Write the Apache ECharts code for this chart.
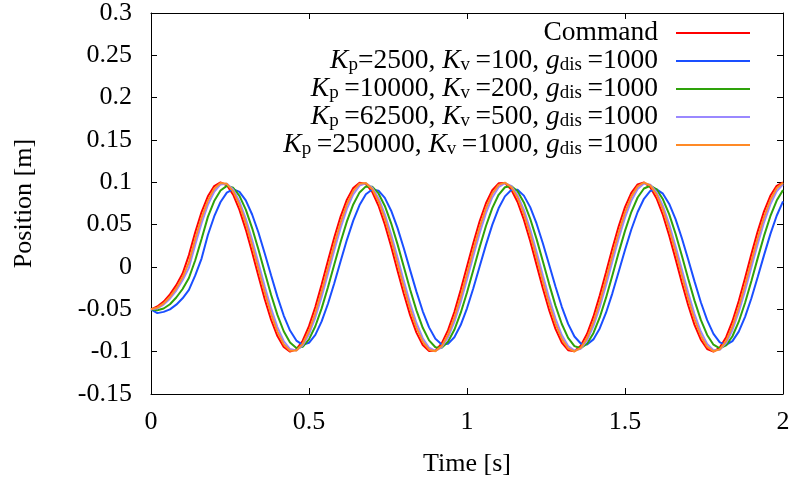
<!DOCTYPE html>
<html>
<head>
<meta charset="utf-8">
<script src="https://cdn.jsdelivr.net/npm/echarts@6/dist/echarts.min.js"></script>
<style>
html,body{margin:0;padding:0;background:#fff;}
#chart{width:795px;height:487px;}
</style>
</head>
<body>
<div id="chart"></div>
<script>
// time axis [s]
var times = [0, 0.02, 0.04, 0.06, 0.08, 0.10, 0.12, 0.14, 0.16, 0.18, 0.20, 0.22, 0.24, 0.26, 0.28, 0.30,
  0.32, 0.34, 0.36, 0.38, 0.40, 0.42, 0.44, 0.46, 0.48, 0.50, 0.52, 0.54, 0.56, 0.58, 0.60,
  0.62, 0.64, 0.66, 0.68, 0.70, 0.72, 0.74, 0.76, 0.78, 0.80, 0.82, 0.84, 0.86, 0.88, 0.90,
  0.92, 0.94, 0.96, 0.98, 1.00, 1.02, 1.04, 1.06, 1.08, 1.10, 1.12, 1.14, 1.16, 1.18, 1.20,
  1.22, 1.24, 1.26, 1.28, 1.30, 1.32, 1.34, 1.36, 1.38, 1.40, 1.42, 1.44, 1.46, 1.48, 1.50,
  1.52, 1.54, 1.56, 1.58, 1.60, 1.62, 1.64, 1.66, 1.68, 1.70, 1.72, 1.74, 1.76, 1.78, 1.80,
  1.82, 1.84, 1.86, 1.88, 1.90, 1.92, 1.94, 1.96, 1.98, 2.00];

// position [m]
var command = [-0.05, -0.0467, -0.0409, -0.0324, -0.0214, -0.0078,
  0.0141, 0.0411, 0.0649, 0.0835, 0.0956, 0.1000, 0.0965, 0.0854, 0.0674, 0.0442,
  0.0174, -0.0107, -0.0380, -0.0623, -0.0816, -0.0945, -0.0999, -0.0973, -0.0871, -0.0699,
  -0.0472, -0.0208, 0.0073, 0.0349, 0.0596, 0.0796, 0.0933, 0.0996, 0.0981, 0.0887,
  0.0723, 0.0502, 0.0241, -0.0040, -0.0317, -0.0568, -0.0775, -0.0921, -0.0993, -0.0987,
  -0.0902, -0.0746, -0.0531, -0.0273, 0.0006, 0.0284, 0.0540, 0.0753, 0.0907, 0.0988,
  0.0992, 0.0916, 0.0768, 0.0559, 0.0306, 0.0028, -0.0252, -0.0511, -0.0731, -0.0892,
  -0.0983, -0.0995, -0.0929, -0.0789, -0.0587, -0.0338, -0.0062, 0.0219, 0.0482, 0.0707,
  0.0876, 0.0976, 0.0998, 0.0941, 0.0810, 0.0614, 0.0370, 0.0096, -0.0185, -0.0452,
  -0.0683, -0.0859, -0.0968, -0.1000, -0.0952, -0.0829, -0.0640, -0.0401, -0.0130, 0.0152,
  0.0421, 0.0658, 0.0841, 0.0959, 0.1000];
var kp2500 = [-0.05, -0.0545, -0.0530, -0.0500, -0.0445, -0.0370,
  -0.0270, -0.0100, 0.0100, 0.0378, 0.0597, 0.0768, 0.0879, 0.0920, 0.0888, 0.0786,
  0.0620, 0.0407, 0.0160, -0.0098, -0.0350, -0.0573, -0.0751, -0.0869, -0.0919, -0.0895,
  -0.0801, -0.0643, -0.0434, -0.0191, 0.0068, 0.0321, 0.0548, 0.0732, 0.0859, 0.0916,
  0.0902, 0.0816, 0.0665, 0.0462, 0.0221, -0.0037, -0.0291, -0.0523, -0.0713, -0.0847,
  -0.0914, -0.0908, -0.0830, -0.0686, -0.0488, -0.0251, 0.0005, 0.0261, 0.0497, 0.0693,
  0.0834, 0.0909, 0.0912, 0.0843, 0.0707, 0.0514, 0.0281, 0.0026, -0.0231, -0.0470,
  -0.0672, -0.0821, -0.0904, -0.0915, -0.0855, -0.0726, -0.0540, -0.0311, -0.0057, 0.0201,
  0.0443, 0.0650, 0.0806, 0.0898, 0.0918, 0.0866, 0.0745, 0.0565, 0.0340, 0.0088,
  -0.0170, -0.0416, -0.0628, -0.0790, -0.0890, -0.0920, -0.0876, -0.0763, -0.0589, -0.0369,
  -0.0119, 0.0140, 0.0388, 0.0605, 0.0774];
var kp10000 = [-0.05, -0.0510, -0.0490, -0.0440, -0.0360, -0.0260,
  -0.0130, 0.0080, 0.0330, 0.0592, 0.0779, 0.0904, 0.0958, 0.0936, 0.0840, 0.0677,
  0.0460, 0.0207, -0.0062, -0.0327, -0.0566, -0.0759, -0.0893, -0.0956, -0.0943, -0.0855,
  -0.0700, -0.0489, -0.0239, 0.0030, 0.0296, 0.0539, 0.0739, 0.0881, 0.0952, 0.0948,
  0.0869, 0.0721, 0.0516, 0.0270, 0.0003, -0.0265, -0.0512, -0.0718, -0.0867, -0.0948,
  -0.0953, -0.0883, -0.0742, -0.0543, -0.0301, -0.0035, 0.0234, 0.0484, 0.0696, 0.0853,
  0.0942, 0.0956, 0.0895, 0.0763, 0.0570, 0.0332, 0.0068, -0.0202, -0.0456, -0.0673,
  -0.0837, -0.0935, -0.0959, -0.0906, -0.0782, -0.0596, -0.0362, -0.0100, 0.0170, 0.0427,
  0.0649, 0.0821, 0.0927, 0.0960, 0.0917, 0.0800, 0.0621, 0.0392, 0.0133, -0.0138,
  -0.0397, -0.0625, -0.0803, -0.0918, -0.0960, -0.0926, -0.0818, -0.0646, -0.0422, -0.0165,
  0.0105, 0.0367, 0.0600, 0.0785, 0.0908];
var kp62500 = [-0.05, -0.0490, -0.0444, -0.0374, -0.0278, -0.0156,
  -0.0008, 0.0263, 0.0518, 0.0733, 0.0889, 0.0975, 0.0984, 0.0915, 0.0773, 0.0570,
  0.0321, 0.0048, -0.0230, -0.0489, -0.0710, -0.0874, -0.0969, -0.0987, -0.0927, -0.0793,
  -0.0597, -0.0353, -0.0081, 0.0197, 0.0460, 0.0686, 0.0858, 0.0962, 0.0989, 0.0938,
  0.0813, 0.0623, 0.0384, 0.0114, -0.0164, -0.0430, -0.0661, -0.0841, -0.0953, -0.0990,
  -0.0948, -0.0832, -0.0649, -0.0415, -0.0148, 0.0131, 0.0399, 0.0636, 0.0822, 0.0943,
  0.0990, 0.0957, 0.0849, 0.0674, 0.0445, 0.0181, -0.0098, -0.0368, -0.0610, -0.0803,
  -0.0933, -0.0988, -0.0965, -0.0866, -0.0698, -0.0475, -0.0214, 0.0064, 0.0337, 0.0583,
  0.0783, 0.0921, 0.0986, 0.0972, 0.0882, 0.0722, 0.0504, 0.0246, -0.0031, -0.0305,
  -0.0556, -0.0762, -0.0908, -0.0982, -0.0978, -0.0897, -0.0744, -0.0532, -0.0279, -0.0003,
  0.0273, 0.0528, 0.0740, 0.0894, 0.0977];
var kp250000 = [-0.05, -0.0480, -0.0429, -0.0352, -0.0250, -0.0122,
  0.0056, 0.0332, 0.0581, 0.0784, 0.0925, 0.0993, 0.0982, 0.0893, 0.0733, 0.0515,
  0.0256, -0.0023, -0.0300, -0.0553, -0.0763, -0.0912, -0.0989, -0.0987, -0.0907, -0.0756,
  -0.0544, -0.0289, -0.0011, 0.0267, 0.0525, 0.0741, 0.0898, 0.0984, 0.0992, 0.0921,
  0.0777, 0.0572, 0.0321, 0.0045, -0.0235, -0.0496, -0.0717, -0.0882, -0.0977, -0.0995,
  -0.0933, -0.0798, -0.0599, -0.0353, -0.0079, 0.0202, 0.0466, 0.0694, 0.0866, 0.0970,
  0.0997, 0.0945, 0.0818, 0.0626, 0.0385, 0.0113, -0.0168, -0.0436, -0.0669, -0.0849,
  -0.0961, -0.0998, -0.0955, -0.0837, -0.0652, -0.0416, -0.0146, 0.0135, 0.0405, 0.0643,
  0.0831, 0.0952, 0.0998, 0.0964, 0.0855, 0.0677, 0.0446, 0.0180, -0.0101, -0.0374,
  -0.0617, -0.0811, -0.0941, -0.0996, -0.0973, -0.0872, -0.0702, -0.0476, -0.0213, 0.0068,
  0.0342, 0.0590, 0.0791, 0.0929, 0.0994];

var names = ['Command', 'Kp=2500, Kv=100, gdis=1000', 'Kp=10000, Kv=200, gdis=1000',
  'Kp=62500, Kv=500, gdis=1000', 'Kp=250000, Kv=1000, gdis=1000'];
var legendLabels = [
  'Command',
  '{i|K}{s|p}=2500, {i|K}{s|v}\u2009=100, {i|g}{s|dis}\u2009=1000',
  '{i|K}{s|p}\u2009=10000, {i|K}{s|v}\u2009=200, {i|g}{s|dis}\u2009=1000',
  '{i|K}{s|p}\u2009=62500, {i|K}{s|v}\u2009=500, {i|g}{s|dis}\u2009=1000',
  '{i|K}{s|p}\u2009=250000, {i|K}{s|v}\u2009=1000, {i|g}{s|dis}\u2009=1000'
];
var colors = ['#ff0000', '#1a4fff', '#2ea20a', '#9a88ff', '#ff8a26'];
var values = [command, kp2500, kp10000, kp62500, kp250000];

var serif = '"Liberation Serif", "DejaVu Serif", serif';

function pairs(vals) {
  return times.map(function (t, i) { return [t, vals[i]]; });
}

var myChart = echarts.init(document.getElementById('chart'));

var series = [];
for (var n = 0; n < names.length; n++) {
  series.push({
    name: names[n],
    type: 'line',
    xAxisIndex: 0,
    yAxisIndex: 0,
    data: pairs(values[n]),
    showSymbol: false,
    symbol: 'none',
    color: colors[n],
    lineStyle: { width: 2, color: colors[n] },
    z: 2 + n
  });
}

function axisBase(extra) {
  var a = {
    type: 'value',
    axisLine: { show: true, onZero: false, lineStyle: { color: '#000', width: 1 } },
    axisTick: { show: true, inside: true, length: 6, lineStyle: { color: '#000' } },
    splitLine: { show: false },
    axisLabel: { color: '#000', fontSize: 26, fontFamily: serif }
  };
  for (var k in extra) a[k] = extra[k];
  return a;
}

var option = {
  animation: false,
  backgroundColor: '#fff',
  grid: { left: 151, right: 12, top: 12, bottom: 93, containLabel: false },
  legend: {
    data: names,
    orient: 'vertical',
    align: 'right',
    right: 45,
    top: 19,
    padding: 0,
    itemGap: 0,
    itemWidth: 74,
    itemHeight: 2,
    icon: 'rect',
    selectedMode: false,
    formatter: function (name) { return legendLabels[names.indexOf(name)]; },
    textStyle: {
      color: '#000',
      fontSize: 27.5,
      fontFamily: serif,
      lineHeight: 27.5,
      padding: [0, 13, 0, 0],
      rich: {
        i: { fontSize: 27.5, fontFamily: serif, fontStyle: 'italic', color: '#000' },
        s: { fontSize: 19, fontFamily: serif, lineHeight: 15, verticalAlign: 'bottom', color: '#000' }
      }
    }
  },
  xAxis: [
    axisBase({
      min: 0, max: 2, interval: 0.5, position: 'bottom',
      name: 'Time [s]', nameLocation: 'middle', nameGap: 57,
      nameTextStyle: { color: '#000', fontSize: 26, fontFamily: serif },
      axisLabel: { color: '#000', fontSize: 26, fontFamily: serif, margin: 15 }
    }),
    axisBase({
      min: 0, max: 2, interval: 0.5, position: 'top',
      axisLabel: { show: false }
    })
  ],
  yAxis: [
    axisBase({
      min: -0.15, max: 0.3, interval: 0.05, position: 'left',
      name: 'Position [m]', nameLocation: 'middle', nameGap: 114, nameRotate: 90,
      nameTextStyle: { color: '#000', fontSize: 26, fontFamily: serif },
      axisLabel: { color: '#000', fontSize: 26, fontFamily: serif, margin: 19 }
    }),
    axisBase({
      min: -0.15, max: 0.3, interval: 0.05, position: 'right',
      axisLabel: { show: false }
    })
  ],
  series: series
};

myChart.setOption(option);
</script>
</body>
</html>
